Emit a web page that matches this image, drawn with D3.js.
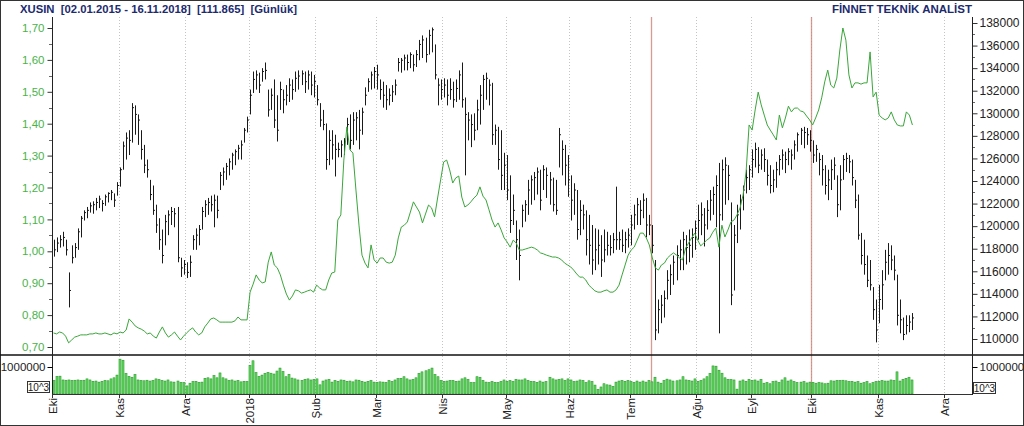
<!DOCTYPE html>
<html><head><meta charset="utf-8">
<script src="https://cdn.jsdelivr.net/npm/d3@7"></script>
<style>html,body{margin:0;padding:0;background:#fff}svg{display:block;font-family:"Liberation Sans",Arial,sans-serif}</style>
</head><body><svg id="c" width="1024" height="426"></svg>
<script>
// ---- categories / ticks ----
const monthLabels = ["Eki","Kas","Ara","2018","Şub","Mar","Nis","May","Haz","Tem","Ağu","Eyl","Eki","Kas","Ara"];
const monthIndex  = [0,22,44,65,87,107,129,150,171,191,213,231,251,273,295];
const markerIndex = [198,251];
const leftTicks  = [0.70,0.80,0.90,1.00,1.10,1.20,1.30,1.40,1.50,1.60,1.70];
const rightTicks = [110000,112000,114000,116000,118000,120000,122000,124000,126000,128000,130000,132000,134000,136000,138000];
const volTicks = [1000000];

// ---- price bars (XUSIN) ----
const high = [
118800,119000,119200,119500,118800,115900,118300,118500,119800,120900,121400,121700,122100,122200,122500,122700,122300,122800,123000,123200,122900,123900,
125200,127500,128300,128500,130900,130700,129900,128500,127200,125900,124100,123600,121900,120700,119700,121000,121400,121700,121600,121700,117200,117000,
116800,117400,119200,119800,120100,121700,122300,122500,122700,122800,122700,124800,125200,125600,126000,126500,126800,127200,127600,128700,129700,
132100,133700,133800,133600,134000,134500,132100,132200,133000,131600,132800,132100,132500,133100,133000,133700,133800,133800,133700,133800,133700,133400,
132500,130900,130300,129100,128500,128500,128100,127400,127600,127800,129600,129900,130100,130100,130300,130500,132300,133100,133700,134100,
134300,133000,132800,132500,132200,132500,133000,134900,134900,135200,135200,135400,135200,135600,136500,136900,136700,137400,137600,136100,133100,133000,
133100,133000,133100,132800,133000,133800,134500,131400,130100,129900,130000,131200,132500,133400,133600,133000,132700,129000,128800,128500,126500,
126300,124500,122800,120500,119700,121900,122300,124100,124500,124800,125200,125000,125400,125200,124800,124300,124100,128700,127600,127200,126300,
124500,123800,123200,122300,121900,121400,121000,120100,119800,119700,119200,119700,119500,119200,119400,123500,119500,119700,119500,119800,
121000,121900,122500,122300,122900,122500,121000,120100,117000,113500,113900,114300,116100,116600,117400,118300,118800,119500,119200,119700,119800,120500,
121900,122100,121600,122300,123200,123500,124500,125600,125900,126100,125400,122100,120100,121900,122800,123600,125000,125400,
126800,127400,127000,126800,126900,125900,125400,125000,125700,126300,126800,126600,126900,126800,127600,128300,128700,128800,128700,128500,
127600,127200,126500,126300,125400,125000,125900,126100,124500,125400,126300,126500,126300,125900,124100,122800,119400,118800,117400,117000,114600,113500,
114800,116100,117900,118500,118300,117400,115700,113500,111900,112100,112100,112300];
const low = [
117300,117700,118100,118200,117400,112800,116700,117200,117900,119000,120500,120700,121200,121100,121400,121600,121300,121800,122100,122300,121700,122700,
123500,125000,125900,126300,127400,128100,127200,125900,124700,124300,122300,121000,119400,117900,116700,118300,119200,120100,119900,116800,115500,115700,
115400,115500,117900,117900,118300,119700,120800,121000,121300,119900,120700,123200,123600,124100,124500,125000,125400,125900,125900,127400,128300,
129900,131800,132100,131800,132800,133000,129700,130300,128700,127500,130300,130000,130700,131000,131200,131900,132100,132500,131800,132100,131600,131400,
130700,128800,128500,125000,125400,125900,124400,126100,126100,126300,127200,126800,127200,127600,126800,128100,130700,131900,132100,132200,
132100,131200,130500,130300,130700,131000,131600,133700,133600,133800,133800,134000,133700,134100,134700,134900,134500,135200,135400,133000,130700,131200,
131400,130700,131200,130500,131000,131200,130500,124500,127600,127000,127600,128500,129000,130300,131200,130700,127200,127200,125000,123200,123200,
122300,119400,120100,117000,115200,119900,120400,121000,121900,122300,122800,121400,123200,122500,121900,121300,121000,125200,124500,123600,122600,
120500,121000,118800,119200,119700,117400,116600,115700,116100,116600,115500,116800,117400,117400,117600,117900,117900,117700,117600,118100,
118300,119700,120100,120100,120700,119000,119200,117600,109900,110500,111400,111900,113500,113900,114800,115200,116100,116100,116600,116800,117200,117900,
118800,119200,118200,119700,120500,121000,119900,110500,120500,121900,122300,113000,114300,118500,119700,121400,122900,123200,
124300,125200,124700,125000,124800,123600,122900,123000,123400,124500,125000,124700,125400,125000,125900,126600,127200,126900,127200,126600,
125600,125700,124500,123600,122800,122300,123200,124100,120800,121400,124100,124800,124700,123600,121600,118800,116600,115700,114600,114300,111700,109700,
111400,112600,115200,115700,116100,115200,111200,110500,109900,110400,110600,110800];
const close = [
117900,118500,118800,119000,117900,114300,117200,118100,119500,120700,121200,121400,121800,121900,122100,122400,122000,122600,122900,123000,122300,123600,
125000,127100,127800,127600,130500,129900,129400,126800,125400,125000,122800,121400,120100,118800,117400,120400,121000,121300,121100,117200,116300,116600,
115900,116800,118800,119200,119700,121300,121900,122100,121900,122300,121400,124500,124800,125300,125700,126300,126600,126900,127200,128500,129400,
131600,133000,133400,132500,133700,133800,130300,131600,129400,128500,132100,131200,131600,132500,132100,133100,133300,133500,132800,133400,132500,132800,
131200,129400,129000,125900,127600,127200,126800,126800,127200,127500,129000,127600,129400,129600,128500,130100,131600,132800,133400,133700,
133400,132100,131600,131200,131600,131900,132500,134500,134700,134900,134500,135200,134300,135200,136100,136500,135200,136900,137400,133400,132500,132100,
132500,131600,132100,131200,132200,133400,131200,129900,129400,129000,128500,130300,131600,133000,133100,132500,128100,128500,125900,124500,125400,
123200,120500,121400,118800,117400,121400,121900,123200,124100,124300,124800,122300,125000,124500,124100,121900,121400,128100,126800,125400,124100,
122300,123200,119700,121400,121000,118800,118300,117000,117900,118300,117000,117900,118300,118100,118800,118800,118800,118300,118800,119200,
120100,121000,121900,121400,122300,120100,120100,118300,110800,112600,113000,113600,115200,115700,116800,117400,117900,118800,118100,118300,119000,119800,
120500,121000,120100,121400,122300,122800,123600,121000,125000,125400,124500,113900,119200,121000,122300,123200,124300,125000,
125900,126800,125400,126300,125900,124500,123600,124100,125000,125900,126300,125900,126600,126300,127200,128100,128500,128300,128100,127600,
126300,126800,125900,125000,123600,124100,125000,125400,121900,124100,125900,126000,125700,124300,122300,119200,117400,116600,115200,114800,112600,110800,
113500,114800,116800,117400,117000,116100,112100,111700,110400,111200,111500,111865];

// ---- green line (left axis) ----
const ratio = [
0.744,0.741,0.747,0.744,0.734,0.713,0.722,0.731,0.734,0.738,0.738,0.738,0.741,0.741,0.744,0.741,0.741,0.744,0.741,0.738,0.744,0.741,
0.747,0.744,0.753,0.788,0.778,0.766,0.760,0.756,0.750,0.741,0.744,0.734,0.728,0.747,0.763,0.744,0.731,0.738,0.747,0.734,0.722,0.734,
0.744,0.753,0.760,0.747,0.738,0.744,0.763,0.775,0.788,0.791,0.785,0.778,0.778,0.778,0.778,0.778,0.782,0.794,0.785,0.785,0.785,
0.872,0.897,0.926,0.910,0.901,0.904,0.966,0.998,0.957,0.948,0.926,0.894,0.866,0.847,0.860,0.879,0.876,0.869,0.872,0.876,0.879,0.872,
0.894,0.885,0.879,0.879,0.910,0.932,0.935,1.098,1.114,1.286,1.390,1.318,1.308,1.192,1.082,0.988,0.963,0.948,1.020,0.973,
0.963,0.979,0.979,0.966,0.963,0.966,0.988,1.042,1.076,1.082,1.092,1.123,1.155,1.139,1.123,1.089,1.117,1.145,1.136,1.108,1.167,1.224,
1.280,1.286,1.255,1.214,1.230,1.236,1.170,1.139,1.145,1.155,1.167,1.176,1.202,1.173,1.161,1.130,1.098,1.076,1.089,1.067,1.042,
1.029,1.013,1.035,1.026,1.004,1.004,1.007,1.010,1.013,1.010,1.004,0.995,0.992,0.988,0.985,0.982,0.982,0.979,0.973,0.963,0.957,
0.951,0.941,0.929,0.919,0.919,0.910,0.894,0.885,0.876,0.872,0.872,0.876,0.879,0.872,0.872,0.879,0.894,0.926,0.957,0.988,
1.004,1.013,1.035,1.057,1.057,1.042,1.020,0.979,0.948,0.941,0.957,0.963,0.979,0.988,0.995,0.988,0.979,0.973,1.010,1.026,1.042,1.057,
1.035,1.017,1.026,1.035,1.042,1.060,1.073,1.013,1.082,1.045,1.067,1.092,1.098,1.114,1.136,1.176,1.249,1.396,
1.380,1.443,1.499,1.459,1.427,1.396,1.380,1.365,1.349,1.427,1.387,1.418,1.455,1.437,1.449,1.449,1.440,1.437,1.424,1.412,
1.396,1.418,1.443,1.481,1.531,1.568,1.521,1.512,1.543,1.631,1.700,1.662,1.553,1.512,1.528,1.528,1.524,1.528,1.528,1.625,1.484,1.499,
1.427,1.418,1.412,1.418,1.437,1.412,1.396,1.393,1.393,1.437,1.427,1.396];

// ---- volume (10^3) ----
const volume = [
500000,650000,660000,520000,510000,520000,500000,510000,520000,500000,510000,560000,520000,470000,480000,440000,470000,500000,490000,560000,600000,700000,
1290000,1250000,760000,650000,620000,720000,520000,500000,490000,510000,480000,500000,560000,530000,500000,480000,520000,450000,440000,480000,430000,420000,
300000,400000,460000,470000,430000,440000,580000,600000,560000,680000,600000,780000,600000,560000,500000,520000,480000,500000,450000,470000,460000,
1050000,1230000,790000,650000,700000,760000,800000,770000,740000,850000,960000,830000,640000,730000,590000,560000,520000,500000,540000,560000,520000,540000,
560000,340000,480000,520000,540000,440000,500000,470000,520000,510000,470000,480000,450000,520000,510000,470000,440000,470000,500000,440000,
430000,450000,440000,430000,500000,460000,520000,570000,580000,640000,560000,520000,540000,600000,760000,820000,860000,900000,960000,720000,640000,500000,
470000,480000,500000,500000,470000,480000,560000,600000,540000,420000,420000,640000,620000,500000,440000,420000,460000,430000,420000,460000,520000,
470000,500000,460000,540000,520000,520000,560000,500000,470000,460000,430000,480000,440000,460000,620000,560000,520000,540000,560000,500000,560000,
520000,460000,480000,520000,500000,420000,490000,460000,330000,170000,260000,380000,340000,330000,280000,440000,480000,500000,470000,500000,
460000,430000,480000,440000,480000,440000,500000,450000,620000,440000,400000,500000,550000,520000,480000,490000,520000,640000,520000,500000,480000,560000,
470000,500000,560000,640000,760000,1040000,1030000,880000,770000,600000,540000,530000,520000,180000,480000,520000,470000,540000,
500000,520000,480000,540000,400000,420000,380000,460000,480000,420000,520000,600000,480000,520000,460000,420000,440000,460000,410000,440000,
430000,400000,420000,410000,380000,400000,490000,480000,500000,500000,510000,490000,460000,470000,440000,460000,400000,420000,460000,380000,420000,460000,
470000,500000,480000,480000,520000,500000,820000,480000,540000,580000,620000,520000];

// ---- layout ----
const svg = d3.select('#c');
const L = 52, R = 972, T = 17, SEP = 355, VB = 394;
const navy = '#1c2a6e';
const x = d3.scaleLinear().domain([0, 304.2]).range([L, R]);
const yL = d3.scaleLinear().domain([0.70, 1.70]).range([347, 28]);
const yR = d3.scaleLinear().domain([110000, 138000]).range([339, 23]);
const yV = d3.scaleLinear().domain([0, 1000000]).range([VB, 367]);
const cx = i => Math.round(x(i + 0.5)) + 0.5;

svg.append('rect').attr('x',0.5).attr('y',0.5).attr('width',1023).attr('height',425)
  .attr('fill','#fff').attr('stroke','#333');

// titles
svg.append('text').attr('x',20).attr('y',13).attr('fill',navy).attr('font-weight','bold')
  .attr('font-size',11.3).style('white-space','pre')
  .text('XUSIN  [02.01.2015 - 16.11.2018]  [111.865]  [Günlük]');
svg.append('text').attr('x',972).attr('y',13).attr('fill',navy).attr('font-weight','bold')
  .attr('font-size',11.5).attr('text-anchor','end').text('FİNNET TEKNİK ANALİST');

// gridlines
svg.append('g').selectAll('line').data(monthIndex).join('line')
  .attr('x1',d=>Math.round(x(d))+0.5).attr('x2',d=>Math.round(x(d))+0.5)
  .attr('y1',T).attr('y2',VB).attr('stroke','#c4c4c4').attr('stroke-dasharray','1,2');
svg.append('g').selectAll('line').data(markerIndex).join('line')
  .attr('x1',d=>Math.round(x(d))+0.5).attr('x2',d=>Math.round(x(d))+0.5)
  .attr('y1',T).attr('y2',VB).attr('stroke','#cc8276').attr('stroke-width',1.3).attr('stroke-opacity',0.8);

// volume bars
svg.append('g').selectAll('rect').data(volume).join('rect')
  .attr('x',(d,i)=>cx(i)-1.5).attr('width',2)
  .attr('y',d=>yV(d)).attr('height',d=>VB-yV(d))
  .attr('fill','#6ad96a').attr('stroke','#239a23').attr('stroke-width',0.6);

// price bars
const bars = svg.append('g').attr('stroke','#1a1a1a').attr('stroke-width',1);
high.forEach((h,i)=>{
  bars.append('line').attr('x1',cx(i)).attr('x2',cx(i)).attr('y1',yR(h)).attr('y2',yR(low[i]));
  bars.append('line').attr('x1',cx(i)).attr('x2',cx(i)+1.5).attr('y1',yR(close[i])).attr('y2',yR(close[i]));
});

// green line
svg.append('path').datum(ratio)
  .attr('d', d3.line().x((d,i)=>x(i+0.5)).y(d=>yL(d)))
  .attr('fill','none').attr('stroke','#3aa63a').attr('stroke-width',1);

// frame lines
svg.append('line').attr('x1',0).attr('x2',1024).attr('y1',SEP).attr('y2',SEP).attr('stroke','#111').attr('stroke-width',1.6);
svg.append('line').attr('x1',L).attr('x2',R).attr('y1',VB+0.5).attr('y2',VB+0.5).attr('stroke','#333');

// left axis
const gl = svg.append('g').attr('transform',`translate(${L+0.5},0)`)
  .call(d3.axisLeft(yL).tickValues(leftTicks).tickSize(5).tickPadding(3)
    .tickFormat(d=>d.toFixed(2).replace('.',',')));
gl.select('.domain').remove();
gl.selectAll('text').attr('fill','#48b448').attr('font-size',11.5).attr('font-family','"Liberation Sans",Arial,sans-serif');
gl.selectAll('line').attr('stroke','#333');
svg.append('g').selectAll('line').data(leftTicks.slice(0,-1)).join('line')
  .attr('x1',L-3).attr('x2',L).attr('y1',d=>Math.round(yL(d+0.05))+0.5).attr('y2',d=>Math.round(yL(d+0.05))+0.5)
  .attr('stroke','#666');

// right axis
const gr = svg.append('g').attr('transform',`translate(${R+0.5},0)`)
  .call(d3.axisRight(yR).tickValues(rightTicks).tickSize(5).tickPadding(2).tickFormat(d3.format('d')));
gr.select('.domain').remove();
gr.selectAll('text').attr('fill','#222').attr('font-size',12).attr('font-family','"Liberation Sans",Arial,sans-serif');
gr.selectAll('line').attr('stroke','#333');
svg.append('g').selectAll('line').data(rightTicks.slice(0,-1)).join('line')
  .attr('x1',R).attr('x2',R+3).attr('y1',d=>Math.round(yR(d+1000))+0.5).attr('y2',d=>Math.round(yR(d+1000))+0.5)
  .attr('stroke','#666');

// axis lines
svg.append('line').attr('x1',L+0.5).attr('x2',L+0.5).attr('y1',T).attr('y2',VB+1).attr('stroke','#222');
svg.append('line').attr('x1',R+0.5).attr('x2',R+0.5).attr('y1',T).attr('y2',VB+1).attr('stroke','#222');

// volume axes
const gvl = svg.append('g').attr('transform',`translate(${L+0.5},0)`)
  .call(d3.axisLeft(yV).tickValues(volTicks).tickSize(5).tickPadding(2).tickFormat(d3.format('d')));
gvl.select('.domain').remove();
gvl.selectAll('text').attr('fill','#222').attr('font-size',11.5).attr('font-family','"Liberation Sans",Arial,sans-serif');
const gvr = svg.append('g').attr('transform',`translate(${R+0.5},0)`)
  .call(d3.axisRight(yV).tickValues(volTicks).tickSize(5).tickPadding(2).tickFormat(d3.format('d')));
gvr.select('.domain').remove();
gvr.selectAll('text').attr('fill','#222').attr('font-size',11.5).attr('font-family','"Liberation Sans",Arial,sans-serif');

// 10^3 boxes
[[27.5,381.5],[973.5,382.5]].forEach(([bx,by])=>{
  svg.append('rect').attr('x',bx).attr('y',by).attr('width',22).attr('height',11)
    .attr('fill','#fff').attr('stroke','#333');
  svg.append('text').attr('x',bx+11).attr('y',by+9).attr('text-anchor','middle')
    .attr('font-size',10).attr('fill','#222').text('10^3');
});

// x axis ticks & labels
const gx = svg.append('g');
monthIndex.forEach((m,k)=>{
  const px = Math.round(x(m))+0.5;
  gx.append('line').attr('x1',px).attr('x2',px).attr('y1',VB).attr('y2',VB+4).attr('stroke','#333');
  gx.append('text').attr('transform',`translate(${px+4},398) rotate(-90)`)
    .attr('text-anchor','end').attr('font-size',11.5).attr('fill','#222').text(monthLabels[k]);
});
</script>
</body></html>
